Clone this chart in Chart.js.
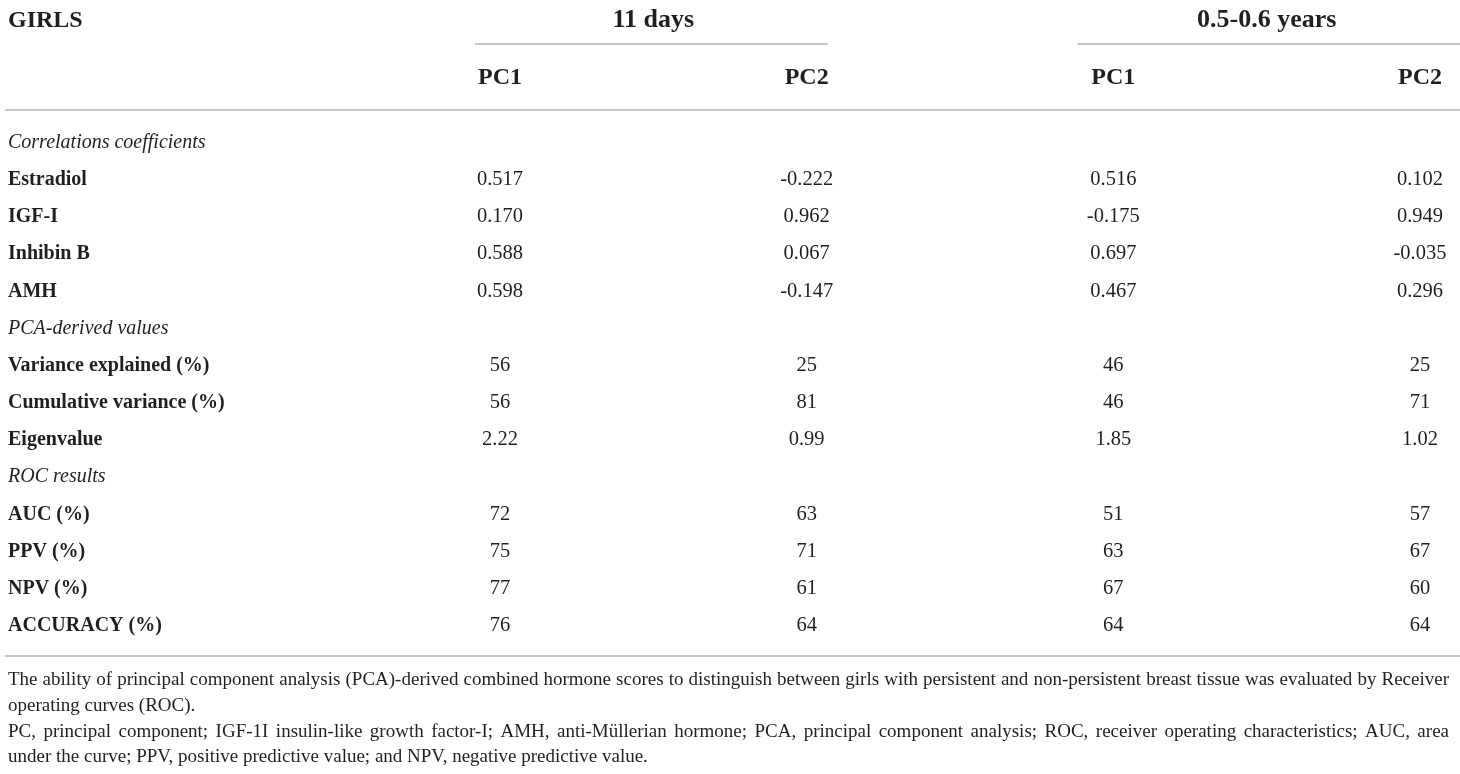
<!DOCTYPE html>
<html>
<head>
<meta charset="utf-8">
<script src="https://cdn.jsdelivr.net/npm/chart.js@4.4.1/dist/chart.umd.min.js"></script>
<style>
  html, body { margin: 0; padding: 0; background: #ffffff; }
  #wrap { width: 1460px; height: 774px; position: relative; }
</style>
</head>
<body>
<div id="wrap"><canvas id="tabela"></canvas></div>
<script>
// Dados da tabela
const titulo = 'GIRLS';
const grupos = ['11 days', '0.5-0.6 years'];
const colunas = ['PC1', 'PC2', 'PC1', 'PC2'];
const chavesColunas = ['d11-PC1', 'd11-PC2', 'y05-PC1', 'y05-PC2'];

const linhas = [
    'Correlations coefficients', 'Estradiol', 'IGF-I', 'Inhibin B', 'AMH',
    'PCA-derived values', 'Variance explained (%)', 'Cumulative variance (%)', 'Eigenvalue',
    'ROC results', 'AUC (%)', 'PPV (%)', 'NPV (%)', 'ACCURACY (%)'
];
const secoes = ['Correlations coefficients', 'PCA-derived values', 'ROC results'];

const dias11PC1 = ['', '0.517', '0.170', '0.588', '0.598', '', '56', '56', '2.22', '', '72', '75', '77', '76'];
const dias11PC2 = ['', '-0.222', '0.962', '0.067', '-0.147', '', '25', '81', '0.99', '', '63', '71', '61', '64'];
const anosPC1 = ['', '0.516', '-0.175', '0.697', '0.467', '', '46', '46', '1.85', '', '51', '63', '67', '64'];
const anosPC2 = ['', '0.102', '0.949', '-0.035', '0.296', '', '25', '71', '1.02', '', '57', '67', '60', '64'];

const notas = [
    { texto: 'The ability of principal component analysis (PCA)-derived combined hormone scores to distinguish between girls with persistent and non-persistent breast tissue was evaluated by Receiver', justificar: true },
    { texto: 'operating curves (ROC).', justificar: false },
    { texto: 'PC, principal component; IGF-1I insulin-like growth factor-I; AMH, anti-Müllerian hormone; PCA, principal component analysis; ROC, receiver operating characteristics; AUC, area', justificar: true },
    { texto: 'under the curve; PPV, positive predictive value; and NPV, negative predictive value.', justificar: false }
];

const FONTE = '"Liberation Serif", "Times New Roman", serif';
const TINTA = '#231f20';
const REGUA = '#b5b5b5';

// Monta os datasets (uma coluna = um dataset, cada célula = um ponto)
function montarColuna(valores, chave) {
    return {
        label: chave,
        data: valores
            .map((v, i) => ({ x: chave, y: linhas[i], v: v }))
            .filter(p => p.v !== ''),
        pointRadius: 0,
        pointHoverRadius: 0
    };
}

const datasets = [
    montarColuna(dias11PC1, chavesColunas[0]),
    montarColuna(dias11PC2, chavesColunas[1]),
    montarColuna(anosPC1, chavesColunas[2]),
    montarColuna(anosPC2, chavesColunas[3])
];

function linhaH(ctx, x1, x2, y) {
    ctx.save();
    ctx.strokeStyle = REGUA;
    ctx.lineWidth = 1.6;
    ctx.beginPath();
    ctx.moveTo(x1, y);
    ctx.lineTo(x2, y);
    ctx.stroke();
    ctx.restore();
}

function textoJustificado(ctx, texto, x, y, largura, justificar) {
    const palavras = texto.split(' ');
    const larguras = palavras.map(p => ctx.measureText(p).width);
    const soma = larguras.reduce((a, b) => a + b, 0);
    const espaco = ctx.measureText(' ').width;
    if (!justificar) {
        ctx.fillText(texto, x, y);
        return;
    }
    let gap = (largura - soma) / (palavras.length - 1);
    let escala = 1;
    if (gap < espaco * 0.6) {
        // comprime um pouco quando não cabe
        escala = largura / (soma + espaco * 0.6 * (palavras.length - 1));
        gap = espaco * 0.6;
    }
    ctx.save();
    ctx.translate(x, y);
    ctx.scale(escala, 1);
    let cx = 0;
    palavras.forEach((p, i) => {
        ctx.fillText(p, cx, 0);
        cx += larguras[i] + gap;
    });
    ctx.restore();
}

// Plugin que desenha a tabela usando as escalas do Chart.js
const pluginTabela = {
    id: 'tabela',
    afterDraw(chart) {
        const ctx = chart.ctx;
        const sx = chart.scales.x;
        const sy = chart.scales.y;
        const larg = chart.width;

        ctx.save();
        ctx.fillStyle = TINTA;
        ctx.textBaseline = 'alphabetic';

        // Cabeçalho
        ctx.font = 'bold 24px ' + FONTE;
        ctx.textAlign = 'left';
        ctx.fillText(titulo, 8, 27);

        const c = chavesColunas.map(k => sx.getPixelForValue(sx.getLabels().indexOf(k)));
        ctx.textAlign = 'center';
        ctx.font = 'bold 26px ' + FONTE;
        ctx.fillText(grupos[0], (c[0] + c[1]) / 2, 27);
        ctx.fillText(grupos[1], (c[2] + c[3]) / 2, 27);
        linhaH(ctx, c[0] - 25, c[1] + 21, 44);
        linhaH(ctx, c[2] - 36, larg, 44);

        ctx.font = 'bold 24px ' + FONTE;
        colunas.forEach((nome, i) => ctx.fillText(nome, c[i], 84));
        linhaH(ctx, 5, larg, 110);

        // Rótulos das linhas
        linhas.forEach((rotulo, i) => {
            const y = sy.getPixelForValue(i);
            ctx.textAlign = 'left';
            ctx.font = (secoes.includes(rotulo) ? 'italic 20px ' : 'bold 20px ') + FONTE;
            ctx.fillText(rotulo, 8, y + 7);
        });

        // Células (posições vindas dos elementos do próprio Chart.js)
        ctx.font = '20.5px ' + FONTE;
        ctx.textAlign = 'center';
        chart.data.datasets.forEach((ds, d) => {
            const meta = chart.getDatasetMeta(d);
            meta.data.forEach((el, j) => {
                ctx.fillText(ds.data[j].v, el.x, el.y + 7);
            });
        });

        // Régua inferior e notas
        const base = sy.getPixelForValue(linhas.length - 1);
        linhaH(ctx, 5, larg, base + 32);
        ctx.font = '19px ' + FONTE;
        ctx.textAlign = 'left';
        notas.forEach((n, i) => {
            textoJustificado(ctx, n.texto, 8, base + 61 + i * 25.8, 1441, n.justificar);
        });
        ctx.restore();
    }
};

new Chart(document.getElementById('tabela'), {
    type: 'scatter',
    data: { datasets: datasets },
    options: {
        responsive: true,
        maintainAspectRatio: false,
        animation: false,
        layout: { padding: { left: 500, right: 40, top: 141, bottom: 150 } },
        plugins: {
            legend: { display: false },
            tooltip: { enabled: false }
        },
        scales: {
            x: { type: 'category', labels: chavesColunas, offset: false, display: false },
            y: { type: 'category', labels: linhas, offset: false, display: false }
        }
    },
    plugins: [pluginTabela]
});
</script>
</body>
</html>
